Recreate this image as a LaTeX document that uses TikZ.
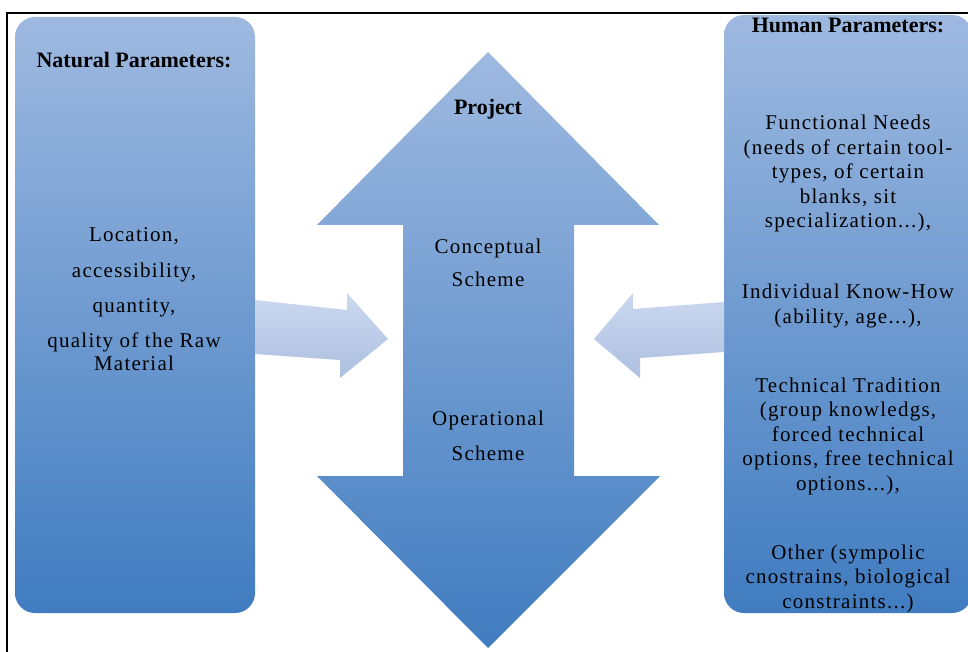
\documentclass[tikz,border=0pt]{standalone}
\usepackage{fontspec}
\setmainfont{Liberation Serif}
\newfontfamily\regfont[LetterSpace=6]{Liberation Serif}
\definecolor{boxtop}{HTML}{9EB9E0}
\definecolor{boxmid}{HTML}{7FA1D4}
\definecolor{boxbot}{HTML}{407CC0}
\definecolor{sidetop}{HTML}{CBD9EF}
\definecolor{sidemid}{HTML}{BCCCE8}
\definecolor{sidebot}{HTML}{ADBFE1}
\tikzset{
  panel/.style={rounded corners=20pt, top color=boxtop, middle color=boxmid, bottom color=boxbot, draw=none},
  bigarrow/.style={top color=boxtop, middle color=boxmid, bottom color=boxbot, draw=none},
  sidearrow/.style={top color=sidetop, middle color=sidemid, bottom color=sidebot, draw=none},
  frameline/.style={line width=2pt, draw=black},
  txt/.style={align=center, inner sep=0pt, anchor=base, font=\regfont\fontsize{21}{24.5}\selectfont},
  hdr/.style={align=center, inner sep=0pt, anchor=base, font=\bfseries\fontsize{22}{24}\selectfont}
}
\begin{document}
\begin{tikzpicture}[x=1pt,y=-1pt]
\useasboundingbox (0,0) rectangle (968,652);
\fill[white] (0,0) rectangle (968,652);
% panels
\path[panel] (15,17) rectangle (255,613);
\path[panel] (724,15) rectangle (972,613);
% central double arrow
\path[bigarrow] (488,52) -- (659,225) -- (574,225) -- (574,476) -- (660,476) -- (488,648)
  -- (317,476) -- (403,476) -- (403,225) -- (317,225) -- cycle;
% side arrows
\path[sidearrow] (255,300) -- (347,310) -- (347,293) -- (388,339) -- (340,378) -- (340,360) -- (255,354) -- cycle;
\path[sidearrow] (724,302) -- (633,309) -- (633,293) -- (594,339) -- (640,378) -- (640,358) -- (724,352) -- cycle;
% frame
\draw[frameline] (7,652) -- (7,13) -- (968,13);
% left texts (multi-line nodes: base = last line)
\node[hdr] (nat) at (134,68) {Natural Parameters:};
\node[txt] (loc) at (134,242) {Location,};
\node[txt] (acc) at (134,277) {accessibility,};
\node[txt] (qty) at (134,312) {quantity,};
\node[txt] (qual) at (134,370) {quality of the Raw\\[-1.5pt]Material};
% center texts
\node[hdr] (proj) at (488,115) {Project};
\node[txt] (conc) at (488,286) {Conceptual\\[8.5pt]Scheme};
\node[txt] (oper) at (488,460) {Operational\\[10.5pt]Scheme};
% right texts
\node[hdr] (hum) at (848,33) {Human Parameters:};
\node[txt] (func) at (848,228) {Functional Needs\\(needs of certain tool-\\types, of certain\\blanks, sit\\specialization...),};
\node[txt] (indiv) at (848,323) {Individual Know-How\\(ability, age...),};
\node[txt] (tech) at (848,490) {Technical Tradition\\(group knowledgs,\\forced technical\\options, free technical\\options...),};
\node[txt] (other) at (848,608) {Other (sympolic\\cnostrains, biological\\constraints...)};
\end{tikzpicture}
\end{document}
